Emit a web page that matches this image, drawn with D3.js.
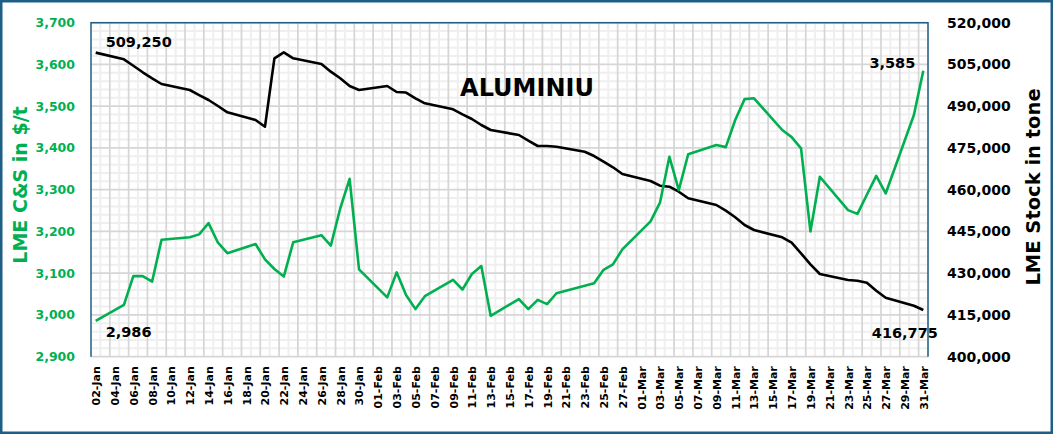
<!DOCTYPE html>
<html>
<head>
<meta charset="utf-8">
<script src="https://cdn.jsdelivr.net/npm/d3@7"></script>
<style>
  body { margin: 0; background: #fff; }
  text { font-family: "DejaVu Sans", Verdana, sans-serif; }
</style>
</head>
<body>
<div id="chart"></div>
<script>
// Trading days as plotted on the date axis
const dates = [
  "2025-01-02",
  "2025-01-05","2025-01-06","2025-01-07","2025-01-08","2025-01-09",
  "2025-01-12","2025-01-13","2025-01-14","2025-01-15","2025-01-16",
  "2025-01-19","2025-01-20","2025-01-21","2025-01-22","2025-01-23",
  "2025-01-26","2025-01-27","2025-01-28","2025-01-29","2025-01-30",
  "2025-02-02","2025-02-03","2025-02-04","2025-02-05","2025-02-06",
  "2025-02-09","2025-02-10","2025-02-11","2025-02-12","2025-02-13",
  "2025-02-16","2025-02-17","2025-02-18","2025-02-19","2025-02-20",
  "2025-02-23","2025-02-24","2025-02-25","2025-02-26","2025-02-27",
  "2025-03-02","2025-03-03","2025-03-04","2025-03-05","2025-03-06",
  "2025-03-09","2025-03-10","2025-03-11","2025-03-12","2025-03-13",
  "2025-03-16","2025-03-17","2025-03-18","2025-03-19","2025-03-20",
  "2025-03-23","2025-03-24","2025-03-25","2025-03-26","2025-03-27",
  "2025-03-30","2025-03-31"
];

// LME cash & settlement price, $/t
const price = [
  2986,
  3024, 3093, 3093, 3080, 3180,
  3186, 3193, 3220, 3173, 3148,
  3170, 3133, 3110, 3092, 3174,
  3191, 3166, 3255, 3326, 3109,
  3042, 3102, 3048, 3014, 3045,
  3084, 3061, 3098, 3117, 2998,
  3038, 3014, 3036, 3026, 3052,
  3070, 3076, 3108, 3121, 3157,
  3224, 3269, 3379, 3299, 3385,
  3407, 3402, 3467, 3517, 3519,
  3443, 3426, 3399, 3200, 3331,
  3251, 3242, 3288, 3333, 3291,
  3479, 3585
];

// LME stock, tonnes
const stock = [
  509250,
  506850, 504550, 502180, 500020, 497980,
  495820, 494000, 492230, 490070, 487810,
  485040, 482640, 507200, 509370, 507200,
  505160, 502400, 500020, 497260, 495820,
  497260, 495100, 494900, 492830, 491040,
  488880, 487090, 485400, 483250, 481450,
  479650, 477610, 475700, 475700, 475450,
  473650, 472100, 470060, 468050, 465640,
  463130, 461440, 461080, 459280, 456910,
  454500, 452460, 450090, 447320, 445520,
  442900, 440960, 437150, 433200, 429710,
  427560, 427300, 426590, 423710, 421200,
  418320, 416775
];

const leftTicks = d3.range(2900, 3701, 100);
const rightTicks = d3.range(400000, 520001, 15000);

const W = 1053, H = 434;
const plot = { left: 91, right: 928, top: 22.7, bottom: 356.7 };
const green = "#00b050";
const frame = "#1f5f86";

const parse = d3.utcParse("%Y-%m-%d");
const data = dates.map((d, i) => ({ date: parse(d), price: price[i], stock: stock[i] }));

const DAY = 864e5;
const start = parse("2025-01-02"), end = parse("2025-03-31");

const x = d3.scaleUtc()
  .domain([new Date(+start - DAY / 2), new Date(+end + DAY / 2)])
  .range([plot.left, plot.right]);
const yL = d3.scaleLinear().domain([2900, 3700]).range([plot.bottom, plot.top]);
const yR = d3.scaleLinear().domain([400000, 520000]).range([plot.bottom, plot.top]);

const svg = d3.select("#chart").append("svg")
  .attr("width", W).attr("height", H);

// outer frame
svg.append("rect")
  .attr("x", 1.25).attr("y", 1.25)
  .attr("width", W - 2.5).attr("height", H - 2.5)
  .attr("fill", "#fff").attr("stroke", frame).attr("stroke-width", 2.5);

// grid: day boundaries, majors every 2 days
const bounds = d3.range(0, 90).map(k => new Date(+start - DAY / 2 + k * DAY));
const grid = svg.append("g");
grid.selectAll(".vmin").data(bounds.filter((d, k) => k % 2 === 1)).enter()
  .append("line")
  .attr("x1", d => x(d)).attr("x2", d => x(d))
  .attr("y1", plot.top).attr("y2", plot.bottom)
  .attr("stroke", "#efefef").attr("stroke-width", 2);
grid.selectAll(".hmin").data(d3.range(2900, 3701, 20).filter(v => v % 100 !== 0)).enter()
  .append("line")
  .attr("x1", plot.left).attr("x2", plot.right)
  .attr("y1", d => yL(d)).attr("y2", d => yL(d))
  .attr("stroke", "#efefef").attr("stroke-width", 2);
grid.selectAll(".vmaj").data(bounds.filter((d, k) => k % 2 === 0 && k > 0)).enter()
  .append("line")
  .attr("x1", d => x(d)).attr("x2", d => x(d))
  .attr("y1", plot.top).attr("y2", plot.bottom)
  .attr("stroke", "#d6d6d6").attr("stroke-width", 1.75);
grid.selectAll(".hmaj").data(leftTicks).enter()
  .append("line")
  .attr("x1", plot.left).attr("x2", plot.right)
  .attr("y1", d => yL(d)).attr("y2", d => yL(d))
  .attr("stroke", "#d6d6d6").attr("stroke-width", 1.75);

// plot border (left, top, right)
svg.append("path")
  .attr("d", `M${plot.left},${plot.bottom}V${plot.top}H${plot.right}V${plot.bottom}`)
  .attr("fill", "none").attr("stroke", frame).attr("stroke-width", 1.5);

// axes
const xAxis = svg.append("g")
  .attr("transform", `translate(0,${plot.bottom})`)
  .call(d3.axisBottom(x)
    .tickValues(d3.range(0, 89, 2).map(k => new Date(+start + k * DAY)))
    .tickFormat(d3.utcFormat("%d-%b"))
    .tickSize(0));
xAxis.select(".domain").remove();
xAxis.selectAll("text")
  .attr("transform", "rotate(-90)")
  .attr("x", -9.5).attr("y", 0).attr("dy", "0.36em")
  .attr("text-anchor", "end")
  .attr("fill", "#000")
  .style("font-size", "11px").style("font-weight", "bold");

const yAxisL = svg.append("g")
  .attr("transform", `translate(${plot.left},0)`)
  .call(d3.axisLeft(yL).tickValues(leftTicks).tickFormat(d3.format(",")).tickSize(0).tickPadding(16));
yAxisL.select(".domain").remove();
yAxisL.selectAll("text")
  .attr("fill", green)
  .style("font-size", "12.5px").style("font-weight", "bold");

const yAxisR = svg.append("g")
  .attr("transform", `translate(${plot.right},0)`)
  .call(d3.axisRight(yR).tickValues(rightTicks).tickFormat(d3.format(",")).tickSize(0).tickPadding(19));
yAxisR.select(".domain").remove();
yAxisR.selectAll("text")
  .attr("fill", "#000")
  .style("font-size", "14px").style("font-weight", "bold");

// axis titles
svg.append("text")
  .attr("transform", "translate(20,185) rotate(-90)")
  .attr("text-anchor", "middle").attr("dy", "0.35em")
  .attr("fill", green)
  .style("font-size", "19px").style("font-weight", "bold")
  .text("LME C&S in $/t");

svg.append("text")
  .attr("transform", "translate(1033,187) rotate(-90)")
  .attr("text-anchor", "middle").attr("dy", "0.35em")
  .attr("fill", "#000")
  .style("font-size", "19.5px").style("font-weight", "bold")
  .text("LME Stock in tone");

// chart title
svg.append("text")
  .attr("x", 527).attr("y", 96)
  .attr("text-anchor", "middle")
  .attr("fill", "#000")
  .style("font-size", "24px").style("font-weight", "bold")
  .text("ALUMINIU");

// series
svg.append("path")
  .datum(data)
  .attr("fill", "none")
  .attr("stroke", "#000")
  .attr("stroke-width", 2.6)
  .attr("stroke-linejoin", "round")
  .attr("d", d3.line().x(d => x(d.date)).y(d => yR(d.stock)));

svg.append("path")
  .datum(data)
  .attr("fill", "none")
  .attr("stroke", green)
  .attr("stroke-width", 2.6)
  .attr("stroke-linejoin", "round")
  .attr("d", d3.line().x(d => x(d.date)).y(d => yL(d.price)));

// end-point labels
const first = data[0], last = data[data.length - 1];
const fmt = d3.format(",");
const labels = svg.append("g")
  .attr("fill", "#000")
  .style("font-size", "14.5px").style("font-weight", "bold");

labels.append("text")
  .attr("x", x(first.date) + 10).attr("y", yR(first.stock) - 5.6)
  .text(fmt(first.stock));
labels.append("text")
  .attr("x", x(first.date) + 10).attr("y", yL(first.price) + 16.5)
  .text(fmt(first.price));
labels.append("text")
  .attr("x", x(last.date) - 8).attr("y", yL(last.price) - 2.3)
  .attr("text-anchor", "end")
  .text(fmt(last.price));
labels.append("text")
  .attr("x", x(last.date) - 51.5).attr("y", yR(last.stock) + 28)
  .text(fmt(last.stock));
</script>
</body>
</html>
